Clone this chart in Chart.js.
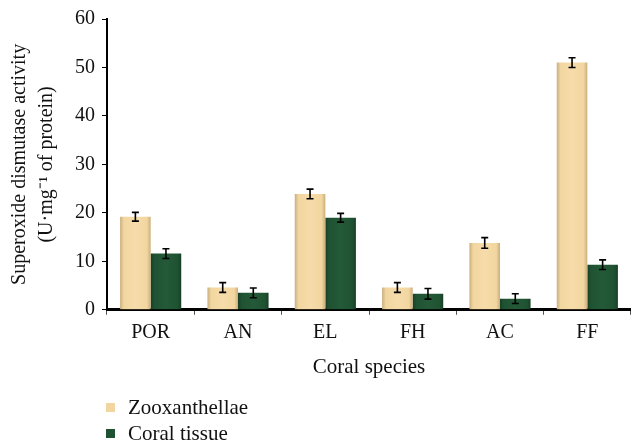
<!DOCTYPE html>
<html>
<head>
<meta charset="utf-8">
<script src="https://cdn.jsdelivr.net/npm/chart.js@4/dist/chart.umd.min.js"></script>
<style>
  body { margin: 0; background: #fff; }
  #wrap { position: relative; width: 631px; height: 441px; }
  #legend { position: absolute; left: 106px; top: 394px; font-family: "Liberation Serif", serif; font-size: 21px; color: #111; }
  #legend div { height: 26px; line-height: 26px; }
  #legend span.box { display: inline-block; width: 9px; height: 9px; margin-right: 13px; vertical-align: 2px; }
</style>
</head>
<body>
<div id="wrap">
  <canvas id="sodChart" width="631" height="441"></canvas>
  <div id="legend"></div>
</div>
<script>
const species = ['POR', 'AN', 'EL', 'FH', 'AC', 'FF']
const zooxValues = [19.2, 4.6, 23.9, 4.6, 13.8, 51.0]
const zooxErrors = [0.9, 1.0, 1.0, 1.0, 1.1, 1.0]
const coralValues = [11.6, 3.5, 19.0, 3.3, 2.3, 9.3]
const coralErrors = [1.0, 1.0, 0.9, 1.1, 1.0, 1.0]
const seriesNames = ['Zooxanthellae', 'Coral tissue']

const zooxColor = '#f2d6a0'
const coralColor = '#1f5232'
const fontFamily = '"Liberation Serif", serif'

// bevelled look: darker edges left/right, lighter in the middle
function barGradient(c, light, mid, dark) {
	var chart = c.chart
	var xs = chart.scales.x
	if (!xs || c.dataIndex === undefined || !chart.chartArea) return mid
	var catW = xs.width / species.length
	var barW = catW * 0.7 / 2
	var center = xs.getPixelForValue(c.dataIndex) + (c.datasetIndex === 0 ? -barW / 2 : barW / 2)
	var left = center - barW / 2
	if (!isFinite(left) || !isFinite(barW) || barW <= 0) return mid
	var g = chart.ctx.createLinearGradient(left, 0, left + barW, 0)
	g.addColorStop(0, dark)
	g.addColorStop(0.12, mid)
	g.addColorStop(0.5, light)
	g.addColorStop(0.88, mid)
	g.addColorStop(1, dark)
	return g
}

const errorBars = {
	id: 'errorBars',
	afterDatasetsDraw(chart) {
		var ctx = chart.ctx
		var ys = chart.scales.y
		var errs = [zooxErrors, coralErrors]
		ctx.save()
		ctx.strokeStyle = '#000'
		ctx.lineWidth = 1.6
		chart.data.datasets.forEach(function (ds, di) {
			var meta = chart.getDatasetMeta(di)
			meta.data.forEach(function (bar, i) {
				var v = ds.data[i]
				var top = ys.getPixelForValue(v + errs[di][i])
				var bot = ys.getPixelForValue(v - errs[di][i])
				ctx.beginPath()
				ctx.moveTo(bar.x, top)
				ctx.lineTo(bar.x, bot)
				ctx.moveTo(bar.x - 3.5, top)
				ctx.lineTo(bar.x + 3.5, top)
				ctx.moveTo(bar.x - 3.5, bot)
				ctx.lineTo(bar.x + 3.5, bot)
				ctx.stroke()
			})
		})
		ctx.restore()
	}
}

var ctx = document.getElementById('sodChart')
var data = {
	labels: species,
	datasets: [{
		label: seriesNames[0],
		data: zooxValues,
		backgroundColor: function (c) { return barGradient(c, '#f6dcaa', zooxColor, '#c9ad7c') },
		borderWidth: 0,
		categoryPercentage: 0.7,
		barPercentage: 1.0,
	}, {
		label: seriesNames[1],
		data: coralValues,
		backgroundColor: function (c) { return barGradient(c, '#245a38', coralColor, '#173f26') },
		borderWidth: 0,
		categoryPercentage: 0.7,
		barPercentage: 1.0,
	}]
}

var barChart = new Chart(ctx, {
	type: 'bar',
	data: data,
	plugins: [errorBars],
	options: {
		responsive: false,
		animation: false,
		layout: { padding: { top: 12, right: 0, bottom: 57, left: 0 } },
		plugins: {
			legend: { display: false },
			tooltip: { enabled: false },
		},
		scales: {
			x: {
				grid: { drawOnChartArea: false, color: '#555', tickLength: 5, tickWidth: 1 },
				border: { color: '#000', width: 3 },
				ticks: { color: '#111', font: { family: fontFamily, size: 20 }, padding: 6 },
				title: { display: true, text: 'Coral species', color: '#111', font: { family: fontFamily, size: 21 }, padding: { top: 4 } },
			},
			y: {
				min: 0,
				max: 60,
				afterFit: function (s) { s.width = 107 },
				grid: { drawOnChartArea: false, color: '#000', tickLength: 5 },
				border: { color: '#000', width: 2 },
				ticks: { stepSize: 10, color: '#111', font: { family: fontFamily, size: 20 }, padding: 7 },
				title: {
					display: true,
					text: ['Superoxide dismutase activity', '(U\u00b7mg\u207b\u00b9 of protein)'],
					color: '#111',
					font: { family: fontFamily, size: 20, lineHeight: 1.35 },
					padding: { top: 6, bottom: 0 },
				},
			}
		}
	}
})

// legend, one entry per line
var legend = document.getElementById('legend')
var legendColors = [zooxColor, coralColor]
seriesNames.forEach(function (name, i) {
	var row = document.createElement('div')
	var box = document.createElement('span')
	box.className = 'box'
	box.style.background = legendColors[i]
	row.appendChild(box)
	row.appendChild(document.createTextNode(name))
	legend.appendChild(row)
})
</script>
</body>
</html>
